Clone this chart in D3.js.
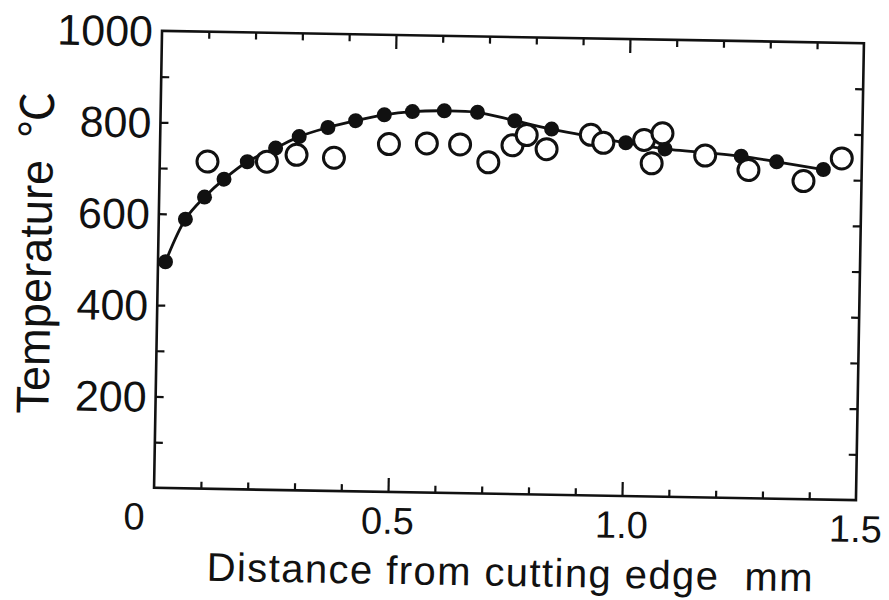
<!DOCTYPE html>
<html>
<head>
<meta charset="utf-8">
<script src="https://cdn.jsdelivr.net/npm/d3@7"></script>
<style>
  html, body { margin: 0; padding: 0; background: #fff; }
  svg { display: block; }
  text { font-family: "Liberation Sans", Arial, Helvetica, sans-serif; fill: #111; }
</style>
</head>
<body>
<svg id="chart" width="889" height="600"></svg>
<script>
// Tool-chip temperature along the rake face
// Filled markers: measured temperature profile (with fitted curve)
const distFilled = [0.016, 0.057, 0.097, 0.138, 0.187, 0.247, 0.297, 0.358, 0.417, 0.478,
                    0.538, 0.606, 0.677, 0.757, 0.836, 0.995, 1.079, 1.242, 1.318, 1.418];
const tempFilled = [495, 589, 638, 678, 717, 748, 774, 795, 811, 825,
                    833, 836, 834, 817, 800, 773, 761, 748, 737, 722];

// Open markers: second data set
const distOpen = [0.102, 0.229, 0.292, 0.372, 0.489, 0.570, 0.641, 0.702, 0.753, 0.783,
                  0.826, 0.920, 0.947, 1.034, 1.051, 1.073, 1.165, 1.258, 1.376, 1.457];
const tempOpen = [716, 718, 734, 729, 761, 764, 763, 725, 763, 786,
                  756, 789, 772, 780, 729, 795, 748, 718, 696, 747];

// Axis ticks and labels
const xLabelValues = [0, 0.5, 1.0, 1.5];
const xLabelTexts = ["0", "0.5", "1.0", "1.5"];
const xMinorTicks = [0.1, 0.2, 0.3, 0.4, 0.6, 0.7, 0.8, 0.9, 1.1, 1.2, 1.3, 1.4];
const xMajorTicks = [0.5, 1.0];
const yLabelValues = [200, 400, 600, 800, 1000];
const yLabelTexts = ["200", "400", "600", "800", "1000"];
const yTicks = [100, 200, 300, 400, 500, 600, 700, 800, 900];

const xTitle = "Distance from cutting edge\u00a0\u00a0mm";
const yTitle = "Temperature";
const yUnit = "\u2103";

// Layout
const margin = { left: 158, top: 37 };
const width = 702, height = 457;
const ink = "#111";

const svg = d3.select("#chart");
// the whole figure sits slightly skewed on the page
const root = svg.append("g").attr("transform", "rotate(1, 509, 265)");
const g = root.append("g").attr("transform", `translate(${margin.left},${margin.top})`);

const x = d3.scaleLinear().domain([0, 1.5]).range([0, width]);
const y = d3.scaleLinear().domain([0, 1000]).range([height, 0]);

function styleAxis(sel) {
  sel.select(".domain").remove();
  sel.selectAll(".tick line").attr("stroke", ink).attr("stroke-width", 2.2);
  sel.selectAll(".tick text").remove();
}

// inward ticks on all four sides
g.append("g").attr("transform", `translate(0,${height})`)
  .call(d3.axisBottom(x).tickValues(xMinorTicks).tickSize(-7).tickSizeOuter(0)).call(styleAxis);
g.append("g").attr("transform", `translate(0,${height})`)
  .call(d3.axisBottom(x).tickValues(xMajorTicks).tickSize(-14).tickSizeOuter(0)).call(styleAxis);
g.append("g")
  .call(d3.axisTop(x).tickValues(xMinorTicks).tickSize(-7).tickSizeOuter(0)).call(styleAxis);
g.append("g")
  .call(d3.axisTop(x).tickValues(xMajorTicks).tickSize(-14).tickSizeOuter(0)).call(styleAxis);
g.append("g")
  .call(d3.axisLeft(y).tickValues(yTicks).tickSize(-8).tickSizeOuter(0)).call(styleAxis);
g.append("g").attr("transform", `translate(${width},0)`)
  .call(d3.axisRight(y).tickValues(yTicks).tickSize(-8).tickSizeOuter(0)).call(styleAxis);

// plot frame
g.append("rect")
  .attr("x", 0).attr("y", 0).attr("width", width).attr("height", height)
  .attr("fill", "none").attr("stroke", ink).attr("stroke-width", 2.6);

// x tick labels
g.append("g").selectAll("text")
  .data(xLabelValues)
  .join("text")
  .attr("x", (d, i) => i === 0 ? x(d) - 9 : x(d))
  .attr("y", height + 42)
  .attr("text-anchor", (d, i) => i === 0 ? "end" : "middle")
  .attr("font-size", 38)
  .text((d, i) => xLabelTexts[i]);

// y tick labels
g.append("g").selectAll("text")
  .data(yLabelValues)
  .join("text")
  .attr("x", -9)
  .attr("y", d => y(d))
  .attr("dy", "0.36em")
  .attr("text-anchor", "end")
  .attr("font-size", 43)
  .text((d, i) => yLabelTexts[i]);

// axis titles
root.append("text")
  .attr("x", 515).attr("y", 586)
  .attr("text-anchor", "middle")
  .attr("font-size", 40)
  .attr("textLength", 606)
  .attr("lengthAdjust", "spacing")
  .text(xTitle);

const yt = root.append("g").attr("transform", "translate(51,422) rotate(-90)");
yt.append("text")
  .attr("x", 0).attr("y", 0)
  .attr("font-size", 46)
  .attr("textLength", 254)
  .attr("lengthAdjust", "spacingAndGlyphs")
  .text(yTitle);
yt.append("text")
  .attr("x", 276).attr("y", 0)
  .attr("font-size", 46)
  .style("font-family", "'Noto Sans CJK JP', 'DejaVu Sans', sans-serif")
  .text(yUnit);

// fitted curve through the filled series
const filled = distFilled.map((d, i) => ({ d, t: tempFilled[i] }));
const open = distOpen.map((d, i) => ({ d, t: tempOpen[i] }));

g.append("path")
  .datum(filled)
  .attr("fill", "none")
  .attr("stroke", ink)
  .attr("stroke-width", 2.8)
  .attr("d", d3.line().x(p => x(p.d)).y(p => y(p.t)).curve(d3.curveCatmullRom.alpha(0.5)));

g.append("g").selectAll("circle")
  .data(filled)
  .join("circle")
  .attr("cx", p => x(p.d))
  .attr("cy", p => y(p.t))
  .attr("r", 7.5)
  .attr("fill", ink);

g.append("g").selectAll("circle")
  .data(open)
  .join("circle")
  .attr("cx", p => x(p.d))
  .attr("cy", p => y(p.t))
  .attr("r", 10.5)
  .attr("fill", "#fff")
  .attr("stroke", ink)
  .attr("stroke-width", 3);
</script>
</body>
</html>
